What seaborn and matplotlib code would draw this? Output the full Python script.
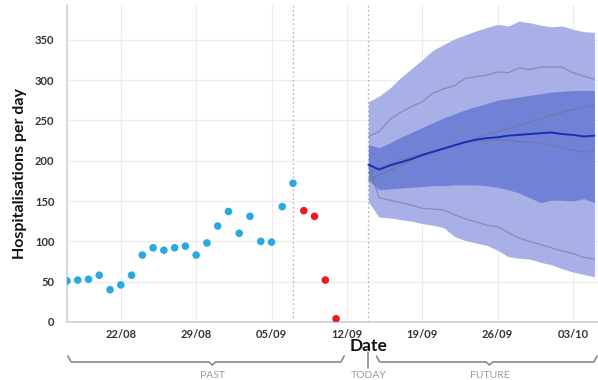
import numpy as np
import pandas as pd
import matplotlib
matplotlib.use("Agg")
import matplotlib.pyplot as plt
import matplotlib.dates as mdates
import matplotlib.transforms as mtransforms
from matplotlib.lines import Line2D
import seaborn as sns

# ---- data -------------------------------------------------------------
obs_start = "2020-08-17"
observed = [51, 52, 53, 58, 40, 46, 58, 83, 92, 89, 92, 94, 83, 98,
            119, 137, 110, 131, 100, 99, 143, 172]
incomplete_start = "2020-09-08"
incomplete = [138, 131, 52, 4]

fc_start = "2020-09-14"
median = [195, 189, 194, 198, 202, 207, 211, 215, 219, 223, 226, 228,
          229, 231, 232, 233, 234, 235, 233, 232, 230, 231]
outer_lo = [149, 130, 129, 127, 125, 122, 120, 117, 106, 101, 98, 95,
            89, 81, 79, 78, 74, 71, 66, 62, 59, 56]
outer_hi = [273, 280, 290, 303, 314, 325, 337, 344, 351, 356, 361, 365,
            369, 367, 373, 371, 368, 366, 367, 363, 360, 359]
inner_lo = [176, 164, 165, 166, 167, 168, 169, 169, 170, 170, 170, 169,
            167, 164, 160, 154, 148, 151, 151, 150, 153, 148]
inner_hi = [220, 216, 222, 229, 235, 241, 247, 253, 258, 263, 267, 271,
            275, 277, 279, 281, 283, 285, 286, 287, 287, 287]
traj_a = [230, 236, 251, 260, 267, 273, 284, 289, 293, 302, 304, 306,
          310, 309, 315, 313, 316, 316, 316, 309, 305, 301]
traj_b = [195, 154, 151, 148, 145, 141, 140, 139, 133, 128, 124, 120,
          118, 111, 104, 100, 96, 92, 88, 85, 80, 78]
traj_c = [176, 182, 188, 194, 200, 206, 211, 215, 219, 223, 228, 233,
          236, 240, 244, 248, 252, 256, 260, 263, 266, 269]
traj_d = [185, 191, 196, 201, 205, 208, 212, 216, 220, 223, 224, 225,
          226, 225, 224, 223, 222, 219, 216, 213, 211, 213]

last_complete = "2020-09-07"
today = "2020-09-14"
x_range = ("2020-08-17", "2020-10-05 08:00")
y_ticks = [0, 50, 100, 150, 200, 250, 300, 350]

# ---- frames -----------------------------------------------------------
obs_df = pd.DataFrame({"date": pd.date_range(obs_start, periods=len(observed)),
                       "value": observed})
inc_df = pd.DataFrame({"date": pd.date_range(incomplete_start, periods=len(incomplete)),
                       "value": incomplete})
fc_dates = pd.date_range(fc_start, periods=len(median))
fc_df = pd.DataFrame({"date": fc_dates, "median": median,
                      "outer_lo": outer_lo, "outer_hi": outer_hi,
                      "inner_lo": inner_lo, "inner_hi": inner_hi})
traj_df = pd.concat([
    pd.DataFrame({"date": fc_dates, "value": v, "run": name})
    for name, v in (("a", traj_a), ("b", traj_b), ("c", traj_c), ("d", traj_d))
])

# ---- style ------------------------------------------------------------
sns.set_theme(style="whitegrid")
plt.rcParams["font.family"] = ["Lato", "DejaVu Sans"]

fig = plt.figure(figsize=(5.98, 3.80), dpi=100)
ax = fig.add_axes([67 / 598, 58 / 380, 531 / 598, 317 / 380])

# forecast bands
ax.fill_between(fc_df["date"], fc_df["outer_lo"], fc_df["outer_hi"],
                color="#a8b0e7", lw=0, zorder=1)
ax.fill_between(fc_df["date"], fc_df["inner_lo"], fc_df["inner_hi"],
                color="#7181d6", lw=0, zorder=2)

# sample trajectories
sns.lineplot(data=traj_df, x="date", y="value", units="run", estimator=None,
             color="#6e6f8e", alpha=0.55, lw=0.9, ax=ax, zorder=3)
# median
sns.lineplot(data=fc_df, x="date", y="median", color="#1530b8", lw=1.4,
             ax=ax, zorder=4)

# observed points
sns.scatterplot(data=obs_df, x="date", y="value", color="#29a8e2", s=30,
                edgecolor="none", ax=ax, zorder=5)
sns.scatterplot(data=inc_df, x="date", y="value", color="#ec1a1e", s=30,
                edgecolor="none", ax=ax, zorder=5)

# reference lines
for d in (last_complete, today):
    ax.axvline(pd.Timestamp(d), color="#b5b5b5", ls=(0, (1.5, 2)), lw=0.9,
               zorder=1.5)

# axes
ax.set_xlim(pd.Timestamp(x_range[0]), pd.Timestamp(x_range[1]))
ax.set_ylim(0, 393)
ax.set_yticks(y_ticks)
ax.xaxis.set_major_locator(mdates.WeekdayLocator(byweekday=mdates.SA))
ax.xaxis.set_major_formatter(mdates.DateFormatter("%d/%m"))
ax.grid(True, color="#ececec", lw=0.8)
ax.set_axisbelow(True)
for side in ("top", "right"):
    ax.spines[side].set_visible(False)
for side in ("left", "bottom"):
    ax.spines[side].set_color("#cfcfcf")
    ax.spines[side].set_linewidth(1.2)
ax.tick_params(axis="both", length=0, labelsize=8, colors="#333333", pad=5)
ax.tick_params(axis="y", pad=9)
for lbl in ax.get_xticklabels() + ax.get_yticklabels():
    lbl.set_fontweight("bold")

ax.set_ylabel("Hospitalisations per day", fontsize=11.5, fontweight="bold",
              color="#111111")
ax.yaxis.set_label_coords(-0.075, 0.47)
ax.set_xlabel("Date", fontsize=12.5, fontweight="bold", color="#111111")
t0 = mdates.date2num(pd.Timestamp(x_range[0]))
t1 = mdates.date2num(pd.Timestamp(x_range[1]))
ax.xaxis.set_label_coords((mdates.date2num(pd.Timestamp(today)) - t0) / (t1 - t0),
                          -0.05)

# past / today / future brackets under the axis
trans = mtransforms.blended_transform_factory(ax.transData, fig.transFigure)
bcol = "#8a8a8a"
yb = 1 - 362 / 380
yc = 1 - 356 / 380


def bracket(x0, x1, xm, label):
    x0n, x1n, xmn = (mdates.date2num(pd.Timestamp(v)) for v in (x0, x1, xm))
    pts_x = [x0n, x0n + 0.3, xmn - 0.3, xmn, xmn + 0.3, x1n - 0.3, x1n]
    pts_y = [yc, yb, yb, yb - 0.008, yb, yb, yc]
    fig.add_artist(Line2D(pts_x, pts_y, transform=trans, color=bcol, lw=1.2))
    fig.text(xmn, 1 - 375 / 380, label, transform=trans, ha="center",
             va="center", fontsize=7.5, color="#9a9a9a")


bracket("2020-08-17 02:00", "2020-09-11 18:00", "2020-08-30 12:00", "PAST")
bracket("2020-09-14 18:00", "2020-10-05 06:00", "2020-09-25 06:00", "FUTURE")
td = mdates.date2num(pd.Timestamp(today))
fig.add_artist(Line2D([td, td], [1 - 352 / 380, 1 - 368 / 380], transform=trans,
                      color=bcol, lw=1.2))
fig.text(td, 1 - 375 / 380, "TODAY", transform=trans, ha="center", va="center",
         fontsize=7.5, color="#9a9a9a")

fig.savefig("out.png", dpi=100)
